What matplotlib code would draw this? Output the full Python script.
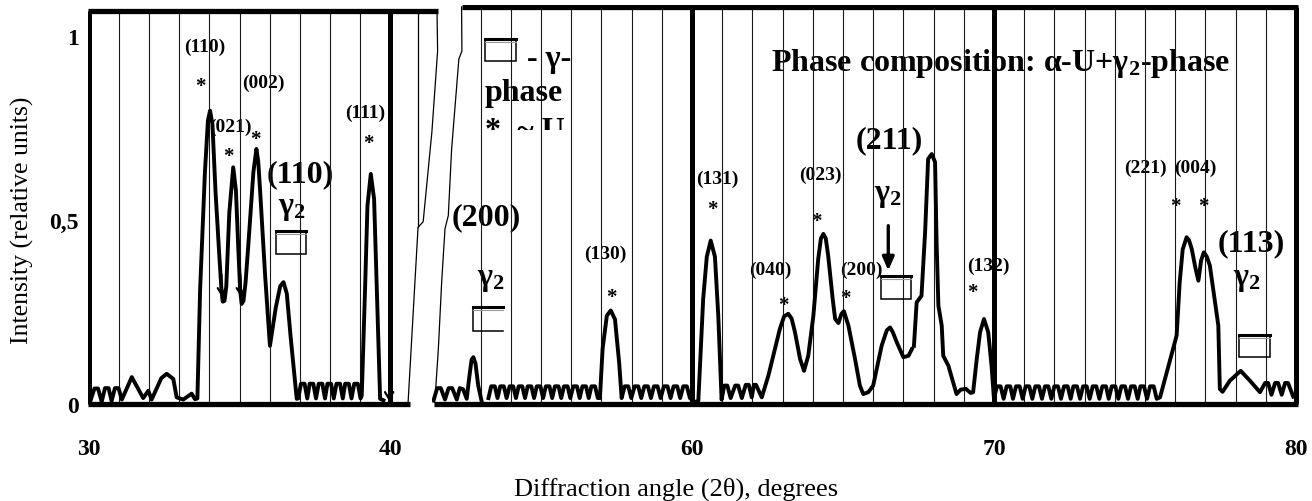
import numpy as np
import matplotlib.pyplot as plt
from matplotlib.patches import Rectangle

plt.rcParams['font.family'] = ['Liberation Serif', 'DejaVu Serif']
plt.rcParams['mathtext.default'] = 'regular'

# diffractogram, left part (30..40 deg)
left_curve = [
    (30.03, 0.004), (30.18, 0.042), (30.30, 0.042), (30.42, 0.006), (30.53, 0.043),
    (30.65, 0.043), (30.75, 0.008), (30.86, 0.043), (30.98, 0.043), (31.09, 0.012),
    (31.42, 0.073), (31.80, 0.016), (31.97, 0.036), (32.08, 0.012), (32.40, 0.070),
    (32.58, 0.082), (32.80, 0.068), (32.91, 0.018), (33.13, 0.012), (33.41, 0.028),
    (33.52, 0.013), (33.60, 0.015), (33.69, 0.310), (33.85, 0.630), (33.95, 0.770),
    (34.02, 0.797), (34.10, 0.760), (34.20, 0.580), (34.33, 0.400), (34.40, 0.310),
    (34.44, 0.278), (34.50, 0.280), (34.56, 0.320), (34.66, 0.520), (34.79, 0.643),
    (34.88, 0.580), (34.96, 0.420), (35.02, 0.310), (35.07, 0.272), (35.13, 0.280),
    (35.20, 0.330), (35.29, 0.430), (35.46, 0.630), (35.56, 0.693), (35.62, 0.660),
    (35.68, 0.584), (35.85, 0.349), (36.01, 0.158), (36.20, 0.260), (36.35, 0.320),
    (36.46, 0.331), (36.57, 0.300), (36.70, 0.180), (36.90, 0.014),
    (36.95, 0.015), (37.04, 0.055), (37.16, 0.055), (37.25, 0.015), (37.33, 0.055),
    (37.45, 0.055), (37.54, 0.015), (37.63, 0.055), (37.75, 0.055), (37.84, 0.015),
    (37.92, 0.055), (38.04, 0.055), (38.13, 0.015), (38.22, 0.055), (38.34, 0.055),
    (38.43, 0.015), (38.51, 0.055), (38.63, 0.055), (38.72, 0.015), (38.81, 0.055),
    (38.93, 0.055), (39.02, 0.015),
    (39.06, 0.023), (39.17, 0.313), (39.25, 0.539), (39.36, 0.625), (39.47, 0.557),
    (39.56, 0.313), (39.67, 0.014), (39.78, 0.010),
]

# diffractogram, right part (51.5..80 deg)
right_curve = [
    (51.44, 0.009), (51.56, 0.043), (51.68, 0.043), (51.82, 0.012), (51.94, 0.043),
    (52.06, 0.043), (52.21, 0.012), (52.31, 0.043), (52.42, 0.040), (52.54, 0.014),
    (52.62, 0.070), (52.70, 0.120), (52.76, 0.127), (52.83, 0.110), (52.92, 0.050),
    (53.04, 0.005), (53.10, np.nan),
    (53.26, 0.016), (53.35, 0.048), (53.47, 0.048), (53.56, 0.016), (53.65, 0.048),
    (53.77, 0.048), (53.86, 0.016), (53.96, 0.048), (54.08, 0.048), (54.17, 0.016),
    (54.26, 0.048), (54.38, 0.048), (54.47, 0.016), (54.56, 0.048), (54.68, 0.048),
    (54.77, 0.016), (54.86, 0.048), (54.98, 0.048), (55.07, 0.016), (55.16, 0.048),
    (55.28, 0.048), (55.37, 0.016), (55.46, 0.048), (55.58, 0.048), (55.67, 0.016),
    (55.76, 0.048), (55.88, 0.048), (55.97, 0.016), (56.07, 0.048), (56.19, 0.048),
    (56.28, 0.016), (56.37, 0.048), (56.49, 0.048), (56.58, 0.016), (56.67, 0.048),
    (56.79, 0.048), (56.88, 0.016),
    (56.95, 0.016), (57.04, 0.150), (57.18, 0.240), (57.31, 0.254), (57.45, 0.230),
    (57.59, 0.110), (57.67, 0.016),
    (57.77, 0.048), (57.89, 0.048), (57.99, 0.016), (58.10, 0.048), (58.22, 0.048),
    (58.32, 0.016), (58.42, 0.048), (58.54, 0.048), (58.64, 0.016), (58.74, 0.048),
    (58.86, 0.048), (58.96, 0.016), (59.07, 0.048), (59.19, 0.048), (59.29, 0.016),
    (59.39, 0.048), (59.51, 0.048), (59.61, 0.016), (59.71, 0.048), (59.83, 0.048),
    (59.93, 0.016), (60.10, 0.005),
    (60.21, 0.009), (60.37, 0.285), (60.49, 0.400), (60.62, 0.444), (60.76, 0.400),
    (60.87, 0.240), (60.98, 0.012),
    (61.07, 0.050), (61.17, 0.050), (61.28, 0.016), (61.43, 0.050), (61.53, 0.050),
    (61.65, 0.016), (61.78, 0.052), (61.88, 0.052), (61.98, 0.018), (62.05, 0.052),
    (62.12, 0.052), (62.31, 0.018),
    (62.53, 0.077), (62.69, 0.131), (62.91, 0.204), (63.05, 0.238), (63.19, 0.245),
    (63.30, 0.232), (63.41, 0.195), (63.58, 0.122), (63.71, 0.090), (63.85, 0.131),
    (64.02, 0.240), (64.18, 0.394), (64.27, 0.450), (64.35, 0.462), (64.43, 0.450),
    (64.51, 0.403), (64.66, 0.285), (64.74, 0.231), (64.85, 0.220), (64.95, 0.245),
    (65.03, 0.252), (65.18, 0.213), (65.40, 0.122), (65.56, 0.050), (65.67, 0.027),
    (65.84, 0.032), (66.00, 0.050), (66.28, 0.158), (66.45, 0.200), (66.56, 0.208),
    (66.65, 0.195), (66.78, 0.168), (67.00, 0.127), (67.17, 0.131), (67.28, 0.149),
    (67.31, np.nan),
    (67.35, 0.158), (67.44, 0.276), (67.60, 0.294), (67.72, 0.467), (67.82, 0.666),
    (67.94, 0.679), (68.05, 0.657), (68.10, 0.439), (68.16, 0.267), (68.27, 0.213),
    (68.32, 0.131), (68.49, 0.104), (68.65, 0.059), (68.76, 0.027), (68.90, 0.039),
    (69.07, 0.041), (69.23, 0.030), (69.31, 0.032), (69.43, 0.122), (69.54, 0.195),
    (69.67, 0.231), (69.81, 0.195), (69.92, 0.104), (70.00, 0.014),
    (70.10, 0.048), (70.22, 0.048), (70.32, 0.014), (70.42, 0.048), (70.54, 0.048),
    (70.63, 0.014), (70.73, 0.048), (70.85, 0.048), (70.95, 0.014), (71.05, 0.048),
    (71.17, 0.048), (71.27, 0.014), (71.37, 0.048), (71.49, 0.048), (71.59, 0.014),
    (71.69, 0.048), (71.80, 0.048), (71.90, 0.014), (72.00, 0.048), (72.12, 0.048),
    (72.22, 0.014), (72.32, 0.048), (72.44, 0.048), (72.54, 0.014), (72.63, 0.048),
    (72.75, 0.048), (72.85, 0.014), (72.95, 0.048), (73.07, 0.048), (73.17, 0.014),
    (73.27, 0.048), (73.39, 0.048), (73.49, 0.014), (73.59, 0.048), (73.71, 0.048),
    (73.80, 0.014), (73.90, 0.048), (74.02, 0.048), (74.12, 0.014), (74.22, 0.048),
    (74.34, 0.048), (74.44, 0.014), (74.54, 0.048), (74.66, 0.048), (74.76, 0.014),
    (74.85, 0.048), (74.97, 0.048), (75.07, 0.014), (75.17, 0.048), (75.29, 0.048),
    (75.39, 0.014),
    (75.50, 0.018), (76.05, 0.186), (76.15, 0.330), (76.25, 0.420), (76.38, 0.453),
    (76.46, 0.445), (76.55, 0.421), (76.67, 0.370), (76.77, 0.335), (76.86, 0.390),
    (76.95, 0.412), (77.05, 0.400), (77.15, 0.376), (77.32, 0.276), (77.43, 0.213),
    (77.48, 0.041), (77.57, 0.033), (77.81, 0.063), (78.17, 0.090), (78.48, 0.063),
    (78.81, 0.032), (78.98, 0.057), (79.08, 0.057), (79.19, 0.025), (79.31, 0.057),
    (79.41, 0.057), (79.53, 0.025), (79.64, 0.057), (79.74, 0.057), (79.91, 0.020),
]

# hkl labels: (text, x, y, size)
left_labels = [
    ('(110)', 33.83, 0.973, 14), ('(002)', 35.78, 0.875, 14), ('(021)', 34.68, 0.755, 14),
    ('(111)', 39.17, 0.793, 14), ('(110)', 37.01, 0.625, 23), ('γ$_2$', 36.74, 0.535, 23),
]
left_stars = [(33.69, 0.865), (34.63, 0.675), (35.52, 0.72), (39.28, 0.71)]

right_labels = [
    ('(200)', 53.20, 0.510, 23), ('γ$_2$', 53.34, 0.342, 23), ('(130)', 57.14, 0.408, 14),
    ('(131)', 60.84, 0.614, 14), ('(040)', 62.58, 0.367, 14), ('(023)', 64.26, 0.625, 14),
    ('(200)', 65.61, 0.365, 14), ('(211)', 66.52, 0.717, 23), ('γ$_2$', 66.50, 0.568, 23),
    ('(132)', 69.83, 0.378, 14), ('(221)', 75.00, 0.643, 14), ('(004)', 76.66, 0.643, 14),
    ('(113)', 78.51, 0.438, 23), ('γ$_2$', 78.38, 0.340, 23),
]
right_stars = [(57.34, 0.29), (60.69, 0.53), (63.02, 0.268), (64.13, 0.497),
               (65.07, 0.289), (69.29, 0.303), (76.00, 0.538), (76.93, 0.538)]

# gamma-phase marker boxes: (x0, x1, y0, y1)
left_boxes = [(36.21, 37.21, 0.407, 0.471)]
right_boxes = [(66.25, 67.24, 0.285, 0.347), (78.12, 79.14, 0.127, 0.188),
               (53.15, 54.16, 0.931, 0.992)]

TOP_L, TOP_R = 1.068, 1.079


def draw_box(ax, x0, x1, y0, y1, open_right=False):
    xs = [x1, x0, x0, x1] if open_right else [x1, x0, x0, x1, x1]
    ys = [y1, y1, y0, y0] if open_right else [y1, y1, y0, y0, y1]
    ax.plot(xs, ys, color='k', lw=1.1, zorder=4, solid_joinstyle='miter')
    ax.plot([x0, x1], [y1, y1], color='k', lw=2.2, zorder=4)
    ax.plot([x0, x1], [y1 - 0.008, y1 - 0.008], color='0.6', lw=0.8, zorder=4)


fig = plt.figure(figsize=(13.12, 5.02), dpi=100)
ax1 = fig.add_axes([0.0674, 0.1845, 0.2666, 0.8042])
ax2 = fig.add_axes([0.3295, 0.1845, 0.6617, 0.8042])
ax1.set_xlim(29.98, 41.6)
ax2.set_xlim(51.4, 80.15)
for ax in (ax1, ax2):
    ax.set_ylim(-0.012, 1.085)
    ax.patch.set_visible(False)
    for s in ax.spines.values():
        s.set_visible(False)

# frame and grid, left part
ax1.vlines(np.arange(31, 40), 0, TOP_L, color='0.1', lw=0.8, zorder=2)
ax1.vlines([30, 40], 0, TOP_L, color='k', lw=3.6, zorder=2)
ax1.plot([29.95, 40.66], [0, 0], color='k', lw=3.8, zorder=2, solid_capstyle='butt')
ax1.plot([29.95, 41.6], [TOP_L, TOP_L], color='k', lw=3.8, zorder=2,
         solid_capstyle='butt', clip_on=False)
ax1.plot([40.93, 40.93], [0.48, TOP_L], color='k', lw=0.9, clip_on=False)
ax1.plot([41.56, 41.58, 41.39, 41.10, 40.93, 40.60], [TOP_L, 0.959, 0.739, 0.495, 0.48, 0.005],
         color='k', lw=0.9, clip_on=False)

# frame and grid, right part
grid_r = [g for g in range(53, 80) if g not in (60, 70)]
ax2.vlines(grid_r, 0, TOP_R, color='0.1', lw=0.8, zorder=2)
ax2.vlines([60, 70, 80], 0, TOP_R, color='k', lw=3.6, zorder=2)
ax2.plot([51.47, 80.08], [0, 0], color='k', lw=3.8, zorder=2, solid_capstyle='butt')
ax2.plot([52.38, 80.08], [TOP_R, TOP_R], color='k', lw=3.8, zorder=2, solid_capstyle='butt')
ax2.plot([52.37, 52.38, 52.28, 52.04, 51.93, 51.82, 51.71, 51.60, 51.49],
         [TOP_R, 0.959, 0.9375, 0.693, 0.512, 0.476, 0.331, 0.149, 0.014],
         color='k', lw=0.9, clip_on=False)

# curves
lx, ly = np.array(left_curve).T
rx, ry = np.array(right_curve).T
ax1.plot(lx, ly, color='k', lw=2.8, zorder=3, solid_joinstyle='round')
ax2.plot(rx, ry, color='k', lw=2.8, zorder=3, solid_joinstyle='round')

# small arrows in the left part
arr = dict(arrowstyle='->, head_length=0.5, head_width=0.3', color='k', lw=1.6)
for xa in (34.43, 35.06):
    ax1.annotate('', xy=(xa, 0.283), xytext=(xa - 0.04, 0.36), arrowprops=arr, zorder=4)
ax1.annotate('', xy=(39.97, 0.0), xytext=(39.97, 0.045), arrowprops=arr, zorder=4)

# labels
for ax, labs, stars in ((ax1, left_labels, left_stars), (ax2, right_labels, right_stars)):
    for s, x, y, fs in labs:
        ax.text(x, y, s, fontsize=fs, fontweight='bold', ha='center', va='center', zorder=1)
    for x, y in stars:
        ax.text(x, y, '*', fontsize=15, fontweight='bold', ha='center', va='center', zorder=1)

for b in left_boxes:
    draw_box(ax1, *b)
for b in right_boxes:
    draw_box(ax2, *b)
draw_box(ax2, 52.76, 53.73, 0.199, 0.263, open_right=True)

ax2.annotate('', xy=(66.5, 0.355), xytext=(66.5, 0.492),
             arrowprops=dict(arrowstyle='-|>, head_length=0.8, head_width=0.35',
                             color='k', lw=2.4))

# legend-like notes
ax2.text(54.55, 0.94, '- γ-', fontsize=23, fontweight='bold', ha='left', va='center')
ax2.text(53.12, 0.845, 'phase', fontsize=23, fontweight='bold', ha='left', va='center')
t = ax2.text(53.14, 0.723, '*  ~ U', fontsize=23, fontweight='bold', ha='left',
             va='baseline')
t.set_clip_on(True)
t.set_clip_path(Rectangle((52.5, 0.745), 10, 1, transform=ax2.transData))
ax2.text(62.62, 0.929, 'Phase composition: α-U+γ$_2$-phase', fontsize=23,
         fontweight='bold', ha='left', va='center', zorder=1)

# ticks
ax1.set_xticks([30, 40])
ax1.set_xticklabels(['30', '40'])
ax1.set_yticks([0, 0.5, 1])
ax1.set_yticklabels(['0', '0,5', '1'])
ax2.set_xticks([60, 70, 80])
ax2.set_xticklabels(['60', '70', '80'])
ax2.set_yticks([])
for ax in (ax1, ax2):
    ax.tick_params(length=0, labelsize=17)
    ax.tick_params(axis='x', pad=21)
    ax.tick_params(axis='y', pad=7)
    for lab in ax.get_xticklabels() + ax.get_yticklabels():
        lab.set_fontweight('bold')

fig.text(676 / 1312, 0.025, 'Diffraction angle (2θ), degrees', fontsize=19,
         ha='center', va='center')
fig.text(22 / 1312, 0.562, 'Intensity (relative units)', fontsize=18.5,
         rotation=90, ha='center', va='center')

fig.savefig('out.png', dpi=100)
